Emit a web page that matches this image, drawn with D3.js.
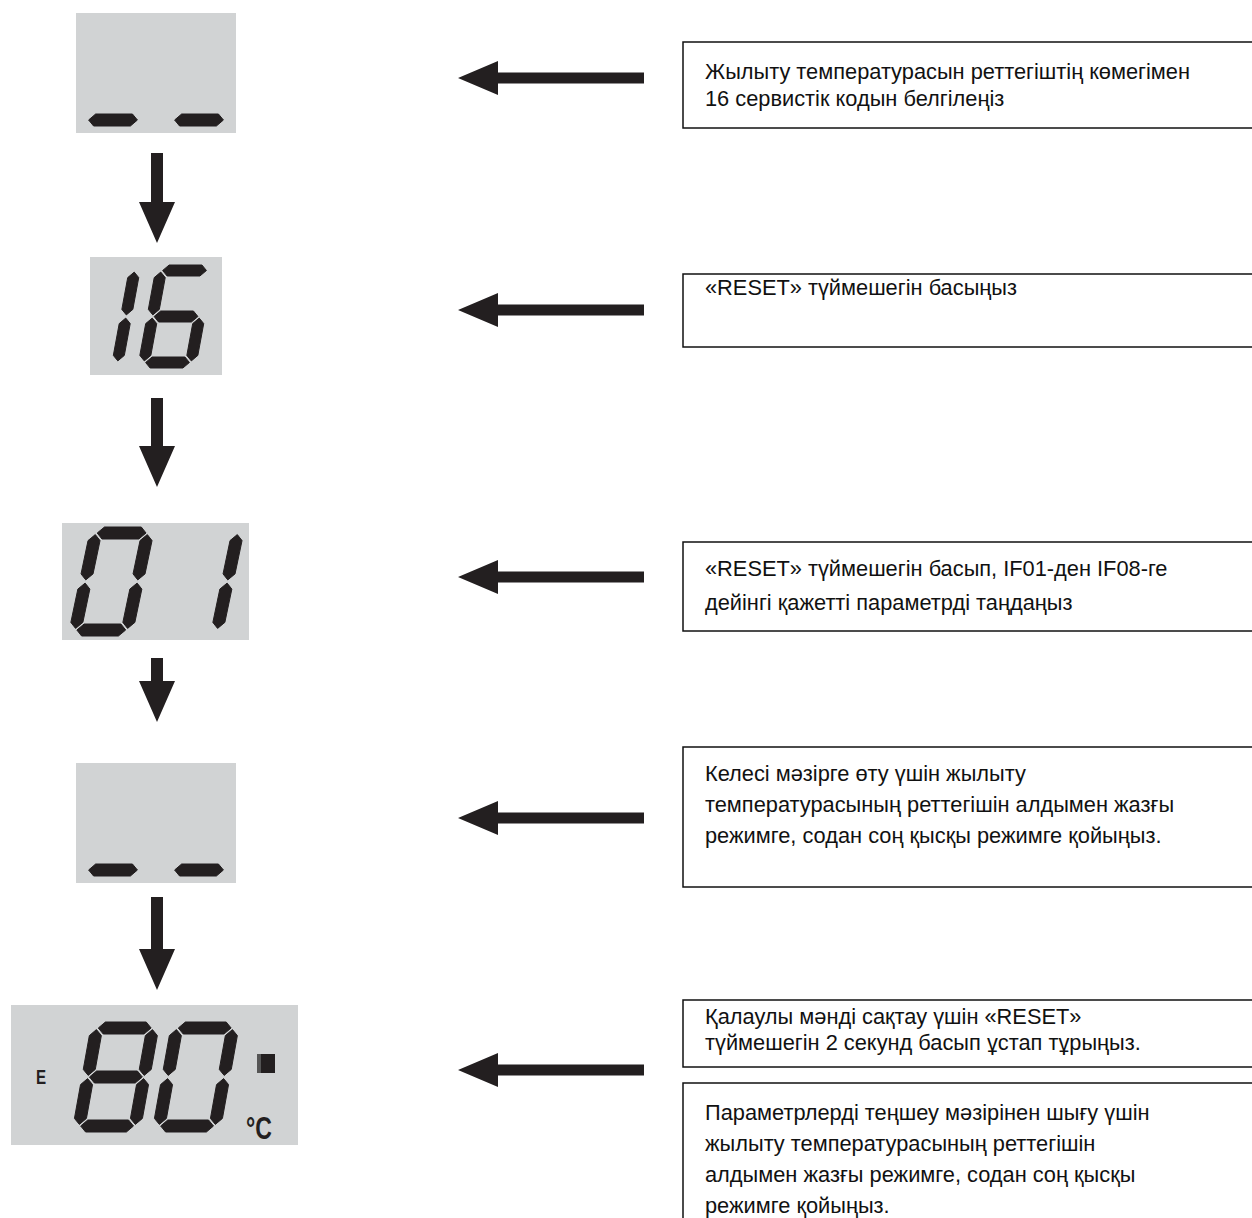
<!DOCTYPE html>
<html><head><meta charset="utf-8">
<script src="https://cdn.jsdelivr.net/npm/d3@7"></script>
<style>body{margin:0;background:#fff} svg{display:block}</style>
</head><body>
<svg id="c" width="1252" height="1218"></svg>
<script>
// ---- data ----
const screenCells = [["_","_"], ["1","6"], ["0","1"], ["_","_"], ["8","0"]];
const segmentsOf = {"0":"abcdef","1":"bc","6":"acdefg","8":"abcdefg","_":"d"," ":""};
const instructions = [
  ["Жылыту температурасын реттегіштің көмегімен", "16 сервистік кодын белгілеңіз"],
  ["«RESET» түймешегін басыңыз"],
  ["«RESET» түймешегін басып, IF01-ден IF08-ге", "дейінгі қажетті параметрді таңдаңыз"],
  ["Келесі мәзірге өту үшін жылыту", "температурасының реттегішін алдымен жазғы", "режимге, содан соң қысқы режимге қойыңыз."],
  ["Қалаулы мәнді сақтау үшін «RESET»", "түймешегін 2 секунд басып ұстап тұрыңыз."],
  ["Параметрлерді теңшеу мәзірінен шығу үшін", "жылыту температурасының реттегішін", "алдымен жазғы режимге, содан соң қысқы", "режимге қойыңыз."]
];
const screenExtras = ["E", "°C"];

// ---- layout ----
const INK = "#231f20", LCD = "#d1d3d4";
const screenLayout = [
  {box:[76,13,160,120],  yb:126,  h:90,  t:12, skew:0.17, x0:[80,166],   w:64},
  {box:[90,257,132,118], yb:368,  h:103, t:11, skew:0.185,x0:[64,137.5], w:58},
  {box:[62,523,187,117], yb:636,  h:109, t:12, skew:0.21, x0:[68,158],   w:64},
  {box:[76,763,160,120], yb:876,  h:90,  t:12, skew:0.17, x0:[80,166],   w:64},
  {box:[11,1005,287,140],yb:1132, h:110, t:12, skew:0.18, x0:[72,152],   w:68}
];
const downArrows = [[153,243],[398,487],[658,722],[897,990]];
const leftArrowY = [78,310,577,818,1070];
const textBoxes = [
  {y:42, h:86,  base:79,  lh:27},
  {y:274,h:73,  base:295, lh:30},
  {y:542,h:89,  base:576, lh:34},
  {y:747,h:140, base:781, lh:31},
  {y:1000,h:67, base:1024,lh:26},
  {y:1083,h:200,base:1120,lh:31}
];

const svg = d3.select("#c");
const line = d3.line();

function segPolys(L, x0, segs){
  const w=L.w, h=L.h, t=L.t, ht=t/2, g=1.6;
  const out=[];
  const H=(y)=>{const x1=ht+g, x2=w-ht-g; return [[x1,y],[x1+ht,y+ht],[x2-ht,y+ht],[x2,y],[x2-ht,y-ht],[x1+ht,y-ht]];};
  const V=(x,y1,y2)=>[[x,y1],[x+ht,y1+ht],[x+ht,y2-ht],[x,y2],[x-ht,y2-ht],[x-ht,y1+ht]];
  const m=h/2;
  const def={
    a:H(h-ht), g:H(m), d:H(ht),
    f:V(ht, m+g, h-ht-g), b:V(w-ht, m+g, h-ht-g),
    e:V(ht, ht+g, m-g), c:V(w-ht, ht+g, m-g)
  };
  for(const s of segs){
    out.push(def[s].map(([x,y])=>[x0+x+y*L.skew, L.yb-y]));
  }
  return out;
}

// LCD screens
screenLayout.forEach((L,i)=>{
  const gS = svg.append("g");
  gS.append("rect").attr("x",L.box[0]).attr("y",L.box[1]).attr("width",L.box[2]).attr("height",L.box[3]).attr("fill",LCD);
  screenCells[i].forEach((ch,k)=>{
    segPolys(L, L.x0[k], segmentsOf[ch]).forEach(p=>{
      gS.append("path").attr("d", line(p)+"Z").attr("fill",INK)
        .attr("stroke",INK).attr("stroke-width",1).attr("stroke-linejoin","round");
    });
  });
});
// extras on last screen
svg.append("text").attr("transform","translate(36,1084) scale(0.72,1)")
  .attr("font-family","'Liberation Sans','DejaVu Sans',sans-serif").attr("font-weight","bold")
  .attr("font-size",21).attr("fill",INK).text(screenExtras[0]);
svg.append("rect").attr("x",257).attr("y",1054).attr("width",18).attr("height",19).attr("fill",INK);
svg.append("rect").attr("x",257).attr("y",1054).attr("width",4).attr("height",19).attr("fill","#555");
svg.append("text").attr("transform","translate(246,1139) scale(0.72,1)")
  .attr("font-family","'Liberation Sans','DejaVu Sans',sans-serif").attr("font-weight","bold")
  .attr("font-size",32).attr("fill",INK).text(screenExtras[1]);

// down arrows
const cx=157, sw=6, hw=18, hl=41;
downArrows.forEach(([y1,y2])=>{
  const yh=y2-hl;
  const p=[[cx-sw,y1],[cx+sw,y1],[cx+sw,yh],[cx+hw,yh],[cx,y2],[cx-hw,yh],[cx-sw,yh]];
  svg.append("path").attr("d",line(p)+"Z").attr("fill",INK);
});
// left arrows
leftArrowY.forEach(y=>{
  const tip=458, base=498, end=644, hh=17, st=5.5;
  const p=[[tip,y],[base,y-hh],[base,y-st],[end,y-st],[end,y+st],[base,y+st],[base,y+hh]];
  svg.append("path").attr("d",line(p)+"Z").attr("fill",INK);
});

// text boxes
textBoxes.forEach((B,i)=>{
  svg.append("rect").attr("x",683).attr("y",B.y).attr("width",600).attr("height",B.h)
    .attr("fill","none").attr("stroke","#111").attr("stroke-width",1.5);
  instructions[i].forEach((s,k)=>{
    svg.append("text").attr("x",705).attr("y",B.base+k*B.lh)
      .attr("font-family","'Liberation Sans',Arial,sans-serif").attr("font-size",21.8)
      .attr("fill","#111").text(s);
  });
});
</script>
</body></html>
